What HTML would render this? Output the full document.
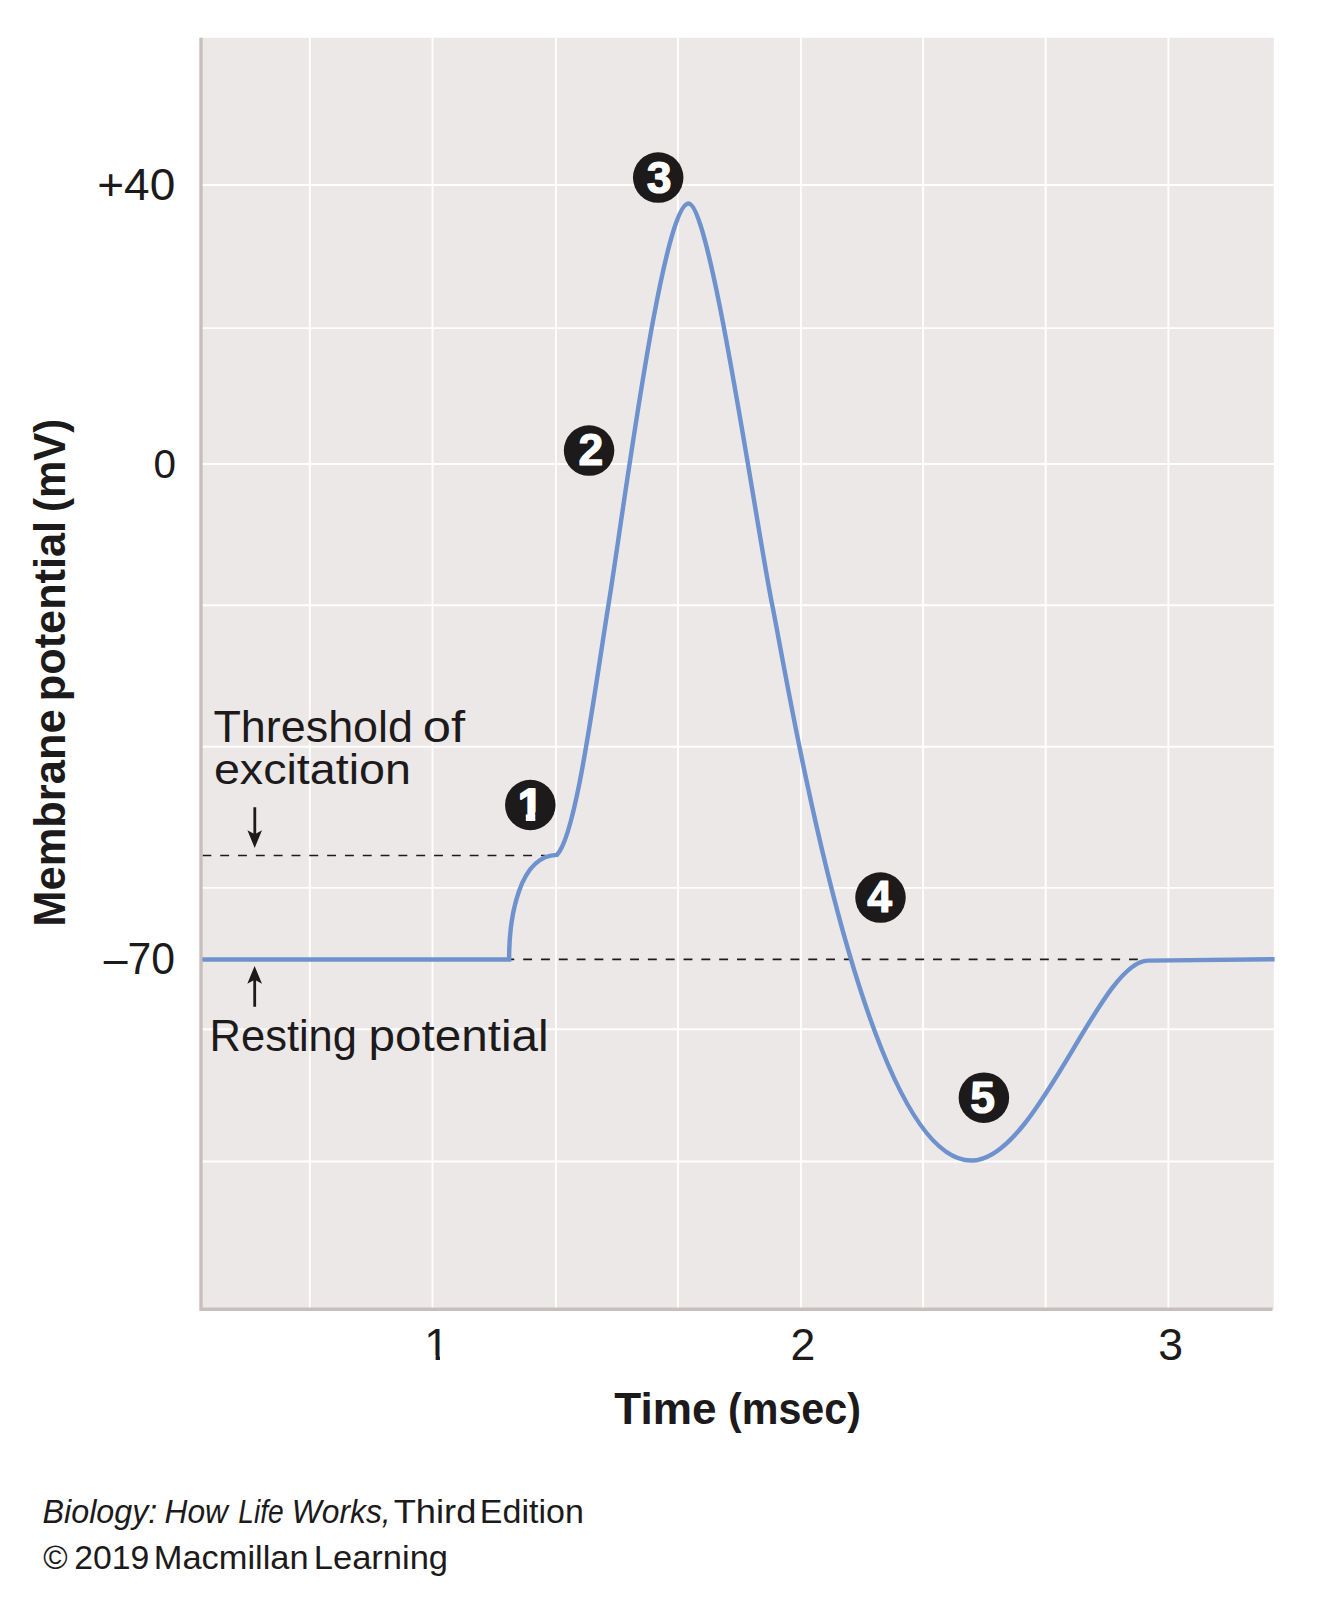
<!DOCTYPE html>
<html lang="en">
<head>
<meta charset="utf-8">
<title>Action potential</title>
<style>
html,body{margin:0;padding:0;background:#fff;}
body{width:1317px;height:1600px;overflow:hidden;}
svg{display:block;}
</style>
</head>
<body>
<svg width="1317" height="1600" viewBox="0 0 1317 1600" font-family="'Liberation Sans', sans-serif" fill="#1d1a1b">
<defs><clipPath id="c1"><path d="M505 775H560V812.3H535.25V825H525.85V812.3H505Z"/></clipPath><clipPath id="c2"><path d="M415 1320H460V1355.6H439.95V1365H435.6V1355.6H415Z"/></clipPath></defs>
<rect x="0" y="0" width="1317" height="1600" fill="#ffffff"/>
<rect x="201" y="37.8" width="1072.8" height="1271" fill="#ece8e7"/>
<g stroke="#ffffff" stroke-width="1.85" fill="none">
<line x1="309.80" y1="37.8" x2="309.80" y2="1308"/>
<line x1="432.50" y1="37.8" x2="432.50" y2="1308"/>
<line x1="555.90" y1="37.8" x2="555.90" y2="1308"/>
<line x1="677.95" y1="37.8" x2="677.95" y2="1308"/>
<line x1="800.90" y1="37.8" x2="800.90" y2="1308"/>
<line x1="923.05" y1="37.8" x2="923.05" y2="1308"/>
<line x1="1045.65" y1="37.8" x2="1045.65" y2="1308"/>
<line x1="1168.40" y1="37.8" x2="1168.40" y2="1308"/>
<line x1="201" y1="185.00" x2="1273.8" y2="185.00"/>
<line x1="201" y1="328.10" x2="1273.8" y2="328.10"/>
<line x1="201" y1="464.00" x2="1273.8" y2="464.00"/>
<line x1="201" y1="605.20" x2="1273.8" y2="605.20"/>
<line x1="201" y1="746.70" x2="1273.8" y2="746.70"/>
<line x1="201" y1="887.80" x2="1273.8" y2="887.80"/>
<line x1="201" y1="1029.20" x2="1273.8" y2="1029.20"/>
<line x1="201" y1="1161.50" x2="1273.8" y2="1161.50"/>
</g>
<g stroke="#1d1a1b" stroke-width="1.7" fill="none" stroke-dasharray="8.9 8.92">
<line x1="202.4" y1="855.5" x2="545.5" y2="855.5"/>
<line x1="202.4" y1="959.4" x2="1137.8" y2="959.4"/>
</g>
<path d="M201 37.8 V1309.3 H1272.6" fill="none" stroke="#c8bfbd" stroke-width="3.4" stroke-linejoin="miter"/>
<path d="M202.5 959.4 L509.1 959.4 C509.1 915.19 519.8 855.73 556.9 854.9 C576.31 835.56 594.23 692.57 608.86 602.27 C623.50 511.97 662.74 203.50 688.60 203.50 C710.51 203.50 756.06 525.39 772.07 604.11 C788.09 682.83 864.37 1160.50 971.30 1160.50 C1037.25 1160.5 1099.63 961.08 1147.8 960.6 L1274.6 959.3" fill="none" stroke="#6e92cd" stroke-width="4.45" stroke-linejoin="miter" stroke-miterlimit="3" stroke-linecap="butt"/>
<path d="M253.4 807.2 H256.2 V833.6 L262 830.3 L254.7 848.1 L247.4 830.3 L253.4 833.6 Z"/>
<path d="M253.3 1006.7 H256.1 V980.4 L262 983.7 L254.6 965.9 L247.3 983.7 L253.3 980.4 Z"/>
<circle cx="530.30" cy="805.00" r="25.25"/>
<text id="d1" x="530.42" y="820.02" font-size="44.50" text-anchor="middle" font-weight="bold" fill="#ffffff" stroke="#ffffff" stroke-width="2.00" stroke-linejoin="round" clip-path="url(#c1)">1</text>
<circle cx="589.06" cy="450.55" r="25.25"/>
<text id="d2" x="590.87" y="465.48" font-size="44.50" text-anchor="middle" font-weight="bold" fill="#ffffff" stroke="#ffffff" stroke-width="1.20" stroke-linejoin="round">2</text>
<circle cx="658.20" cy="177.60" r="25.25"/>
<text id="d3" x="659.18" y="192.68" font-size="44.50" text-anchor="middle" font-weight="bold" fill="#ffffff" stroke="#ffffff" stroke-width="1.20" stroke-linejoin="round">3</text>
<circle cx="880.50" cy="897.60" r="25.25"/>
<text id="d4" x="879.51" y="912.13" font-size="44.50" text-anchor="middle" font-weight="bold" fill="#ffffff" stroke="#ffffff" stroke-width="1.20" stroke-linejoin="round">4</text>
<circle cx="983.90" cy="1097.70" r="25.25"/>
<text id="d5" x="982.53" y="1112.93" font-size="44.50" text-anchor="middle" font-weight="bold" fill="#ffffff" stroke="#ffffff" stroke-width="1.20" stroke-linejoin="round">5</text>
<text id="t40" x="97.21" y="200.00" font-size="44.60" textLength="78.02" lengthAdjust="spacingAndGlyphs">+40</text>
<text id="t0" x="153.41" y="478.40" font-size="41.20" textLength="22.50" lengthAdjust="spacingAndGlyphs">0</text>
<text id="t70" x="103.80" y="973.90" font-size="45.00" textLength="71.35" lengthAdjust="spacingAndGlyphs">–70</text>
<text id="x1" x="424.20" y="1359.80" font-size="44.60" clip-path="url(#c2)">1</text>
<text id="x2" x="790.51" y="1359.80" font-size="44.60">2</text>
<text id="x3" x="1158.16" y="1359.80" font-size="44.60">3</text>
<text id="timeA" x="614.31" y="1423.60" font-size="45.20" font-weight="bold" textLength="102.19" lengthAdjust="spacingAndGlyphs">Time</text>
<text id="timeB" x="727.99" y="1423.60" font-size="45.20" font-weight="bold" textLength="133.01" lengthAdjust="spacingAndGlyphs">(msec)</text>
<text id="ytA" transform="translate(64.80 926.68) rotate(-90)" font-size="45.00" font-weight="bold" textLength="217.33" lengthAdjust="spacingAndGlyphs">Membrane</text>
<text id="ytB" transform="translate(64.80 701.20) rotate(-90)" font-size="45.00" font-weight="bold" textLength="180.29" lengthAdjust="spacingAndGlyphs">potential</text>
<text id="ytC" transform="translate(64.80 511.91) rotate(-90)" font-size="45.00" font-weight="bold" textLength="93.05" lengthAdjust="spacingAndGlyphs">(mV)</text>
<text id="thr1A" x="213.46" y="741.70" font-size="44.20" textLength="199.51" lengthAdjust="spacingAndGlyphs">Threshold</text>
<text id="thr1B" x="422.82" y="741.70" font-size="44.20" textLength="42.33" lengthAdjust="spacingAndGlyphs">of</text>
<text id="thr2" x="213.95" y="784.20" font-size="42.00" textLength="197.02" lengthAdjust="spacingAndGlyphs">excitation</text>
<text id="restA" x="209.61" y="1050.60" font-size="44.20" textLength="147.36" lengthAdjust="spacingAndGlyphs">Resting</text>
<text id="restB" x="368.52" y="1050.60" font-size="44.20" textLength="180.12" lengthAdjust="spacingAndGlyphs">potential</text>
<text id="f1A" x="42.56" y="1522.50" font-size="33.00" font-style="italic" textLength="114.74" lengthAdjust="spacingAndGlyphs">Biology:</text>
<text id="f1B" x="164.60" y="1522.50" font-size="33.00" font-style="italic" textLength="63.42" lengthAdjust="spacingAndGlyphs">How</text>
<text id="f1C" x="238.37" y="1522.50" font-size="33.00" font-style="italic" textLength="45.41" lengthAdjust="spacingAndGlyphs">Life</text>
<text id="f1D" x="291.70" y="1522.50" font-size="33.00" font-style="italic" textLength="98.96" lengthAdjust="spacingAndGlyphs">Works,</text>
<text id="f1E" x="393.70" y="1522.50" font-size="33.00" textLength="82.72" lengthAdjust="spacingAndGlyphs">Third</text>
<text id="f1F" x="479.79" y="1522.50" font-size="33.00" textLength="104.02" lengthAdjust="spacingAndGlyphs">Edition</text>
<text id="f2A" x="43.36" y="1568.70" font-size="33.00" textLength="24.38" lengthAdjust="spacingAndGlyphs">©</text>
<text id="f2B" x="74.15" y="1568.70" font-size="33.00" textLength="75.09" lengthAdjust="spacingAndGlyphs">2019</text>
<text id="f2C" x="153.73" y="1568.70" font-size="33.00" textLength="154.91" lengthAdjust="spacingAndGlyphs">Macmillan</text>
<text id="f2D" x="313.76" y="1568.70" font-size="33.00" textLength="134.30" lengthAdjust="spacingAndGlyphs">Learning</text>
</svg>
</body>
</html>
